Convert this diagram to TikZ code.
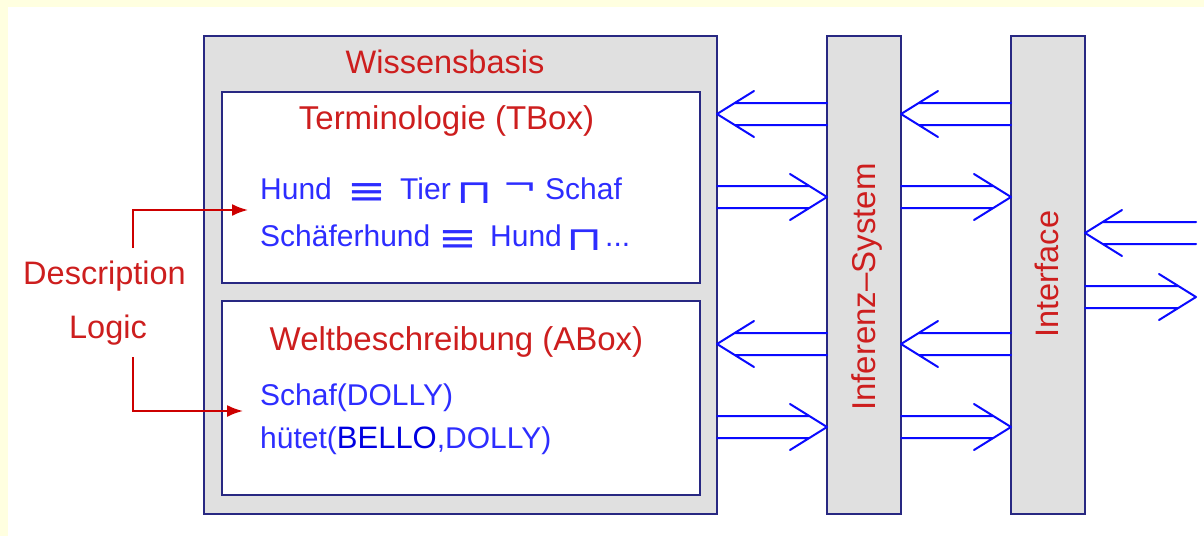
\documentclass[tikz,border=0pt]{standalone}
\usepackage{graphicx}
\usepackage{fontspec}
\setmainfont{Liberation Sans}
\newfontfamily\symfont{DejaVu Sans}
\usetikzlibrary{arrows.meta,calc}

\definecolor{navy}{RGB}{40,40,130}
\definecolor{panel}{RGB}{224,224,224}
\definecolor{cream}{RGB}{255,255,224}
\definecolor{lbl}{RGB}{205,30,30}
\definecolor{termblue}{RGB}{45,45,255}
\definecolor{deepblue}{RGB}{0,0,225}
\definecolor{flowblue}{RGB}{10,10,255}
\definecolor{pointred}{RGB}{205,0,0}

% twin-line arrow with an open V head: #1 start point, #2 tip, #3 direction (+1 right, -1 left)
\newcommand\twinarrow[3]{%
  \draw[flow] let \p1=#1, \p2=#2 in
    (\x1,{\y1+11pt}) -- ({\x2-#3*17.7pt},{\y1+11pt})
    (\x1,{\y1-11pt}) -- ({\x2-#3*17.7pt},{\y1-11pt})
    ({\x2-#3*37pt},{\y2+23pt}) -- (\x2,\y2) -- ({\x2-#3*37pt},{\y2-23pt});}

% logic symbols, widened to the size used in the axioms
\newcommand\dlEquiv{\scalebox{1.55}[1.3]{≡}}
\newcommand\dlMeet{\scalebox{1.55}[1.1]{⊓}}
\newcommand\dlNot{\scalebox{1.4}[1.0]{¬}}

\begin{document}
\begin{tikzpicture}[x=1pt,y=-1pt,
  frame/.style={draw=navy,line width=2.4pt,inner sep=0pt,outer sep=0pt},
  column/.style={frame,fill=panel,minimum width=74pt,minimum height=478pt},
  title/.style={text=lbl,font=\fontsize{33}{38}\selectfont,anchor=base,inner sep=0pt},
  side/.style={title,font=\fontsize{32.5}{38}\selectfont},
  term/.style={text=termblue,font=\fontsize{30}{36}\selectfont,anchor=base west,inner sep=0pt},
  sym/.style={text=termblue,font=\symfont\fontsize{30}{36}\selectfont,anchor=base west,inner sep=0pt},
  flow/.style={draw=flowblue,line width=2pt,line cap=round,line join=round},
  pointer/.style={draw=pointred,line width=2pt,-{Latex[length=16pt,width=12pt]}},
]
% page background
\fill[white] (0,0) rectangle (1204,536);
\fill[cream] (0,0) rectangle (1204,7);
\fill[cream] (0,0) rectangle (8,536);
\useasboundingbox (0,0) rectangle (1204,536);

% knowledge base with its two boxes
\node[frame,fill=panel,minimum width=513pt,minimum height=478pt] (wb) at (460.5,275) {};
\node[frame,fill=white,minimum width=478pt,minimum height=191pt] (tbox) at (461,187.5) {};
\node[frame,fill=white,minimum width=478pt,minimum height=194pt] (abox) at (461,398) {};

% inference system and interface columns
\node[column] (inf) at (864,275) {};
\node[column] (itf) at (1048,275) {};

% titles
\node[side] (wbT) at (445,73) {Wissensbasis};
\node[title] (tboxT) at (446.5,129) {Terminologie (TBox)};
\node[title] (aboxT) at (456.5,350) {Weltbeschreibung (ABox)};
\node[title,rotate=90] (infT) at (875,287) {Inferenz\textendash System};
\node[side,rotate=90] (itfT) at (1058,274) {Interface};
\node[side] (desc) at (104.5,284) {Description};
\node[side] (logic) at (108,338) {Logic};

% terminology axioms
\node[term] (t1) at (260,199) {Hund};
\node[sym] (t2) at (347,204) {\dlEquiv};
\node[term] (t3) at (400,199) {Tier};
\node[sym] (t4) at (456,203) {\dlMeet};
\node[sym] (t5) at (502,195) {\dlNot};
\node[term] (t6) at (545,199) {Schaf};
\node[term] (u1) at (260,246) {Schäferhund};
\node[sym] (u2) at (438,251) {\dlEquiv};
\node[term] (u3) at (490,246) {Hund};
\node[sym] (u4) at (566,250) {\dlMeet};
\node[term] (u5) at (605,246) {...};

% world description assertions
\node[term] (a1) at (260,405) {Schaf(DOLLY)};
\node[term] (a2) at (260,448) {hütet({\color{deepblue}\fontsize{31}{36}\selectfont BELLO},DOLLY)};

% pointers from the label to both boxes
\coordinate (dStart) at (133,248);
\coordinate (dTip) at (248,210);
\coordinate (lStart) at (133,357);
\coordinate (lTip) at (243,411);
\draw[pointer] (dStart) |- (dTip);
\draw[pointer] (lStart) |- (lTip);

% data flow between knowledge base, inference system and interface
\twinarrow{(inf.west |- 0,114)}{(wb.east |- 0,114)}{-1}
\twinarrow{(wb.east |- 0,197)}{(inf.west |- 0,197)}{1}
\twinarrow{(itf.west |- 0,114)}{(inf.east |- 0,114)}{-1}
\twinarrow{(inf.east |- 0,197)}{(itf.west |- 0,197)}{1}
\twinarrow{(inf.west |- 0,344)}{(wb.east |- 0,344)}{-1}
\twinarrow{(wb.east |- 0,427)}{(inf.west |- 0,427)}{1}
\twinarrow{(itf.west |- 0,344)}{(inf.east |- 0,344)}{-1}
\twinarrow{(inf.east |- 0,427)}{(itf.west |- 0,427)}{1}

% user side of the interface
\coordinate (userIn) at (1196,233);
\coordinate (userOut) at (1196,297);
\twinarrow{(userIn)}{(itf.east |- userIn)}{-1}
\twinarrow{(itf.east |- userOut)}{(userOut)}{1}
\end{tikzpicture}
\end{document}
